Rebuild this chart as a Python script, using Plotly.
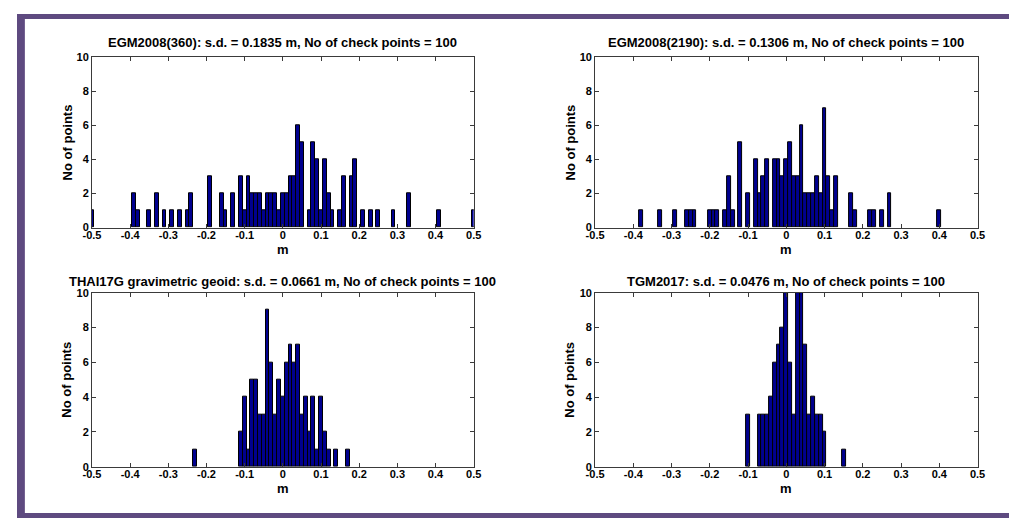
import plotly.graph_objects as go

# The page adds an 8 px body margin, so the figure is drawn 8 px in from the
# top-left corner of the 1025x532 window: size it to fill the rest exactly.
OFF = 8
FW, FH = 1025 - 2 * OFF, 532 - 2 * OFF


def xp(X):  # window pixel -> paper x
    return (X - OFF) / FW


def yp(Y):  # window pixel (from top) -> paper y
    return 1 - (Y - OFF) / FH


# ---------------- data (bin centres in m, counts) ----------------
egm360_bins = [-0.50, -0.39, -0.38, -0.35, -0.33, -0.31, -0.29, -0.27, -0.25, -0.24,
               -0.19, -0.16, -0.15, -0.13, -0.11, -0.10, -0.09, -0.08, -0.07, -0.06,
               -0.05, -0.04, -0.03, -0.02, -0.01, 0.00, 0.01, 0.02, 0.03, 0.04,
               0.05, 0.07, 0.08, 0.09, 0.10, 0.11, 0.12, 0.13, 0.15, 0.16,
               0.18, 0.19, 0.21, 0.23, 0.25, 0.29, 0.33, 0.41, 0.50]
egm360_counts = [1, 2, 1, 1, 2, 1, 1, 1, 1, 2,
                 3, 2, 1, 2, 3, 1, 3, 2, 2, 2,
                 1, 2, 2, 2, 1, 2, 2, 3, 3, 6,
                 5, 1, 5, 4, 1, 4, 2, 1, 1, 3,
                 3, 4, 1, 1, 1, 1, 2, 1, 1]

egm2190_bins = [-0.38, -0.33, -0.29, -0.26, -0.25, -0.24, -0.20, -0.19, -0.18, -0.16,
                -0.15, -0.14, -0.12, -0.10, -0.08, -0.07, -0.06, -0.05, -0.03, -0.02,
                -0.01, 0.00, 0.01, 0.02, 0.03, 0.04, 0.05, 0.06, 0.07, 0.08,
                0.09, 0.10, 0.11, 0.12, 0.13, 0.17, 0.18, 0.22, 0.23, 0.25,
                0.27, 0.40]
egm2190_counts = [1, 1, 1, 1, 1, 1, 1, 1, 1, 1,
                  3, 1, 5, 2, 4, 2, 3, 4, 4, 4,
                  3, 4, 5, 3, 3, 6, 2, 2, 2, 3,
                  2, 7, 3, 1, 3, 2, 1, 1, 1, 1,
                  2, 1]

thai_bins = [-0.23, -0.11, -0.10, -0.09, -0.08, -0.07, -0.06, -0.05, -0.04, -0.03,
             -0.02, -0.01, 0.00, 0.01, 0.02, 0.03, 0.04, 0.05, 0.06, 0.07,
             0.08, 0.09, 0.10, 0.11, 0.12, 0.14, 0.17]
thai_counts = [1, 2, 4, 1, 5, 5, 3, 3, 9, 6,
               3, 5, 4, 6, 7, 6, 7, 3, 4, 2,
               4, 1, 4, 2, 1, 1, 1]

tgm_bins = [-0.10, -0.07, -0.06, -0.05, -0.04, -0.03, -0.02, -0.01, 0.00, 0.01,
            0.02, 0.03, 0.04, 0.05, 0.06, 0.07, 0.08, 0.09, 0.10, 0.15]
tgm_counts = [3, 3, 3, 3, 4, 6, 7, 8, 10, 6,
              3, 11, 10, 7, 3, 4, 3, 3, 2, 1]

titles = [
    "EGM2008(360): s.d. = 0.1835 m, No of check points = 100",
    "EGM2008(2190): s.d. = 0.1306 m, No of check points = 100",
    "THAI17G gravimetric geoid: s.d. = 0.0661 m, No of check points = 100",
    "TGM2017: s.d. = 0.0476 m, No of check points = 100",
]
x_tick_vals = [-0.5, -0.4, -0.3, -0.2, -0.1, 0.0, 0.1, 0.2, 0.3, 0.4, 0.5]
x_tick_text = ["-0.5", "-0.4", "-0.3", "-0.2", "-0.1", "0", "0.1", "0.2", "0.3", "0.4", "0.5"]
y_tick_vals = [0, 2, 4, 6, 8, 10]
x_label = "m"
y_label = "No of points"
bin_width = 0.01

panels = [
    (egm360_bins, egm360_counts),
    (egm2190_bins, egm2190_counts),
    (thai_bins, thai_counts),
    (tgm_bins, tgm_counts),
]

# ---------------- layout geometry (window pixels) ----------------
col_px = [(84.3, 472.5), (596.0, 985.0)]
row_px = [(52.3, 226.7), (293.3, 471.5)]   # top, bottom (from top of window)
title_gap = [15.0, 11.0]

BAR_FILL = "#00008f"
AXIS_COL = "#3a3a3a"
FONT = "Liberation Sans, Arial, Helvetica, sans-serif"
PURPLE = "#5e4a80"

fig = go.Figure()
annotations = []
for i, (bins, counts) in enumerate(panels):
    r, c = divmod(i, 2)
    n = i + 1
    xa = "x" if n == 1 else f"x{n}"
    ya = "y" if n == 1 else f"y{n}"
    fig.add_trace(go.Bar(
        x=[round(b, 2) for b in bins], y=counts, width=bin_width,
        marker=dict(color=BAR_FILL, line=dict(color="#000000", width=1)),
        xaxis=xa, yaxis=ya, showlegend=False, hoverinfo="x+y",
    ))
    x0, x1 = col_px[c]
    t0, t1 = row_px[r]
    axkey = "xaxis" if n == 1 else f"xaxis{n}"
    aykey = "yaxis" if n == 1 else f"yaxis{n}"
    common = dict(showline=True, linecolor=AXIS_COL, linewidth=1, mirror="allticks",
                  ticks="inside", ticklen=4, tickcolor=AXIS_COL, showgrid=False,
                  zeroline=False, fixedrange=True,
                  tickfont=dict(family=FONT, size=11, color="#000", weight="bold"))
    fig.update_layout(**{
        axkey: dict(domain=[xp(x0), xp(x1)], range=[-0.5, 0.5], anchor=ya,
                    tickvals=x_tick_vals, ticktext=x_tick_text,
                    ticklabelstandoff=-3, **common),
        aykey: dict(domain=[yp(t1), yp(t0)], range=[0, 10], anchor=xa,
                    tickvals=y_tick_vals, ticklabelstandoff=0, **common),
    })
    cx = (x0 + x1) / 2
    annotations.append(dict(text=titles[i], x=xp(cx), y=yp(t0 - title_gap[r]),
                            xref="paper", yref="paper", showarrow=False,
                            xanchor="center", yanchor="middle",
                            font=dict(family=FONT, size=13, color="#000", weight="bold")))
    annotations.append(dict(text=x_label, x=xp(cx), y=yp(t1 + 22),
                            xref="paper", yref="paper", showarrow=False,
                            xanchor="center", yanchor="middle",
                            font=dict(family=FONT, size=13, color="#000", weight="bold")))
    annotations.append(dict(text=y_label, x=xp(x0 - 25.5), y=yp((t0 + t1) / 2),
                            xref="paper", yref="paper", showarrow=False, textangle=-90,
                            xanchor="center", yanchor="middle",
                            font=dict(family=FONT, size=13, color="#000", weight="bold")))

shapes = [
    # left edge of the purple frame
    dict(type="rect", xref="paper", yref="paper", x0=xp(8), x1=xp(16), y0=0, y1=1,
         fillcolor=PURPLE, line=dict(width=0), layer="above"),
    # top edge of the purple frame
    dict(type="rect", xref="paper", yref="paper", x0=xp(8), x1=1, y0=yp(13), y1=1,
         fillcolor=PURPLE, line=dict(width=0), layer="above"),
    # bottom edge of the purple frame (as low as the page allows)
    dict(type="rect", xref="paper", yref="paper", x0=xp(8), x1=1, y0=0, y1=5 / FH,
         fillcolor=PURPLE, line=dict(width=0), layer="above"),
]

fig.update_layout(
    width=FW, height=FH, margin=dict(l=0, r=0, t=0, b=0),
    paper_bgcolor="white", plot_bgcolor="white",
    bargap=0, annotations=annotations, shapes=shapes,
    font=dict(family=FONT, color="#000"),
)

fig.write_html("out.html", config={"displayModeBar": False})
